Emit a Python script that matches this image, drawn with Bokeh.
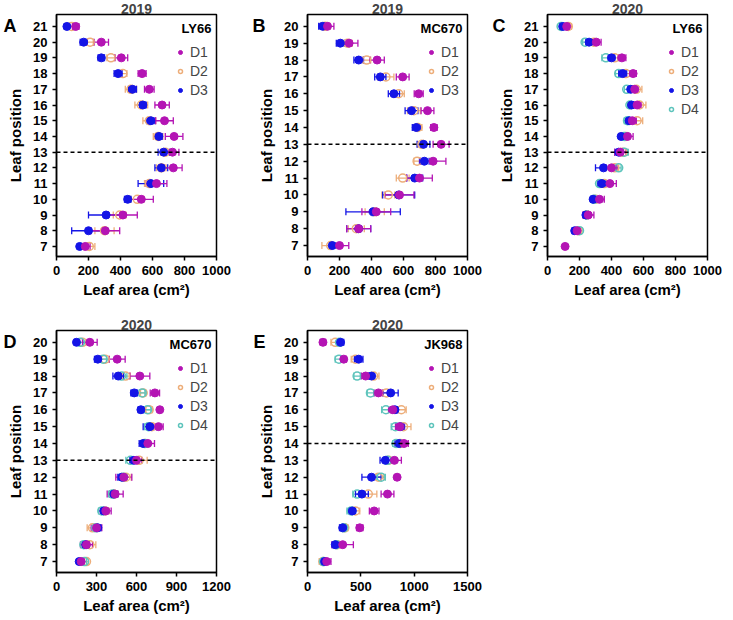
from bokeh.plotting import figure
from bokeh.models import (ColumnDataSource, Whisker, TeeHead, Span, Label,
                          Legend, LegendItem, FixedTicker, Range1d, LinearAxis)
from bokeh.layouts import column, row
from bokeh.embed import file_html
from bokeh.resources import INLINE
import numpy as np

nan = float("nan")
FONT = "Liberation Sans"

# ---------------- data (leaf 7 -> top leaf) ----------------
A_leaf = list(range(7, 22))
A_D1 = [180, 305, 415, 530, 625, 730, 725, 735, 675, 660, 580, 535, 405, 280, 120]
A_D1_err = [30, 90, 90, 75, 65, 55, 40, 55, 55, 45, 30, 25, 40, 45, 20]
A_D2 = [205, 300, 395, 505, 580, 655, 680, 635, 580, 530, 465, 415, 340, 210, 95]
A_D2_err = [35, 60, 40, 40, 30, 30, 30, 30, 40, 40, 35, 25, 25, 20, 15]
A_D3 = [145, 200, 310, 445, 590, 655, 670, 640, 590, 540, 475, 385, 280, 170, 65]
A_D3_err = [10, 105, 110, 20, 80, 40, 35, 20, 25, 20, 25, 25, 20, 22, 15]

B_leaf = list(range(7, 21))
B_D1 = [200, 320, 430, 575, 700, 785, 835, 790, 750, 695, 595, 435, 260, 125]
B_D1_err = [58, 75, 90, 90, 80, 80, 50, 20, 40, 28, 40, 45, 55, 40]
B_D2 = [145, 305, 420, 505, 595, 685, 715, 690, 665, 570, 490, 370, 250, 110]
B_D2_err = [55, 50, 60, 40, 40, 20, 25, 25, 40, 35, 50, 25, 30, 30]
B_D3 = [155, 320, 410, 570, 670, 730, 725, 680, 650, 540, 455, 320, 205, 95]
B_D3_err = [15, 75, 170, 100, 50, 30, 40, 25, 40, 35, 35, 30, 25, 25]

C_leaf = list(range(7, 22))
C_D1 = [110, 185, 255, 325, 390, 400, 455, 500, 530, 560, 545, 535, 465, 305, 120]
C_D1_err = [0, 25, 35, 30, 40, 35, 35, 35, 25, 25, 20, 20, 25, 30, 15]
C_D2 = [nan, 190, 245, 300, 355, 420, 470, 490, 560, 575, 555, 490, 420, 290, 130]
C_D2_err = [nan, 20, 20, 20, 25, 25, 30, 20, 35, 40, 35, 25, 25, 25, 20]
C_D3 = [nan, 170, 240, 285, 340, 350, 445, 460, 510, 525, 520, 470, 400, 260, 95]
C_D3_err = [nan, 15, 15, 15, 25, 50, 25, 15, 20, 15, 15, 25, 20, 20, 10]
C_D4 = [nan, 200, 245, 290, 325, 445, 480, 480, 500, 515, 495, 445, 365, 235, 85]
C_D4_err = [nan, 15, 15, 15, 15, 15, 25, 20, 20, 15, 15, 20, 25, 15, 10]

D_leaf = list(range(7, 21))
D_D1 = [185, 225, 300, 370, 440, 505, 600, 685, 765, 775, 738, 625, 455, 250]
D_D1_err = [20, 45, 40, 40, 60, 60, 40, 50, 35, 0, 35, 75, 60, 55]
D_D2 = [225, 250, 270, 365, 430, 520, 620, 660, 715, 695, 650, 518, 365, 195]
D_D2_err = [15, 45, 40, 30, 30, 40, 60, 30, 35, 25, 20, 35, 30, 25]
D_D3 = [170, 220, 310, 355, 430, 490, 580, 650, 700, 633, 583, 463, 310, 150]
D_D3_err = [15, 25, 25, 25, 30, 30, 30, 30, 50, 20, 25, 40, 25, 15]
D_D4 = [210, 205, 295, 340, 420, 500, 555, 665, 690, 683, 643, 488, 350, 180]
D_D4_err = [15, 20, 20, 25, 30, 30, 35, 30, 30, 25, 20, 40, 25, 20]

E_leaf = list(range(7, 21))
E_D1 = [180, 330, 490, 625, 750, 840, 815, 905, 865, 800, 665, 545, 340, 145]
E_D1_err = [40, 100, 30, 45, 60, 0, 65, 40, 40, 40, 40, 40, 25, 25]
E_D2 = [145, 280, 350, 450, 570, 665, 760, 870, 900, 880, 740, 620, 450, 260]
E_D2_err = [35, 30, 30, 40, 80, 50, 40, 40, 70, 45, 50, 50, 40, 40]
E_D3 = [160, 260, 330, 420, 510, 600, 730, 860, 870, 820, 780, 600, 480, 310]
E_D3_err = [20, 30, 30, 30, 60, 90, 50, 40, 40, 30, 70, 30, 40, 30]
E_D4 = [150, 270, 340, 410, 465, 690, 750, 830, 825, 735, 590, 465, 295, 300]
E_D4_err = [25, 25, 25, 40, 40, 40, 30, 30, 40, 40, 30, 30, 35, 20]

STYLE = {
    "D1": dict(color="#B414B4", filled=True),
    "D2": dict(color="#EDAE7A", filled=False),
    "D3": dict(color="#1414E6", filled=True),
    "D4": dict(color="#5EC4BC", filled=False),
}
DRAW_ORDER = ["D2", "D4", "D3", "D1"]

FW, FH = 160, 242


def make_panel(leaf, series, xmax, xticks, yrange, title, letter, cultivar,
               dash_at, bl, br, bb, letter_standoff):
    p = figure(frame_width=FW, frame_height=FH, output_backend="svg",
               toolbar_location=None, title=title,
               x_range=Range1d(0, xmax), y_range=Range1d(*yrange),
               min_border_left=bl, min_border_right=br,
               min_border_top=0, min_border_bottom=bb)
    p.title.align = "center"
    p.title.text_font = FONT
    p.title.text_font_size = "14px"
    p.title.text_font_style = "bold"
    p.title.standoff = 2
    p.xgrid.visible = False
    p.ygrid.visible = False
    p.outline_line_color = "black"
    p.outline_line_width = 1.5
    p.background_fill_color = "white"
    p.border_fill_color = "white"

    for ax in (p.xaxis[0], p.yaxis[0]):
        ax.axis_line_width = 1.5
        ax.major_tick_line_width = 1.5
        ax.major_tick_out = 4
        ax.major_tick_in = 0
        ax.minor_tick_line_color = None
        ax.major_label_text_font = FONT
        ax.major_label_text_font_size = "13px"
        ax.major_label_text_font_style = "bold"
        ax.major_label_text_color = "black"
        ax.axis_label_text_font = FONT
        ax.axis_label_text_font_size = "15px"
        ax.axis_label_text_font_style = "bold"
        ax.axis_label_text_color = "black"
        ax.major_label_standoff = 5
    p.xaxis.ticker = FixedTicker(ticks=xticks)
    p.yaxis.ticker = FixedTicker(ticks=leaf)
    p.xaxis.axis_label = "Leaf area (cm²)"
    p.yaxis.axis_label = "Leaf position"
    p.xaxis.axis_label_standoff = 3
    p.yaxis.axis_label_standoff = 6

    # panel letter as a one-tick outer axis, level with the top leaf row
    top = max(leaf)
    lax = LinearAxis(ticker=FixedTicker(ticks=[top]),
                     major_label_overrides={top: letter},
                     axis_line_color=None, major_tick_line_color=None,
                     minor_tick_line_color=None, major_tick_out=0, major_tick_in=0,
                     major_label_standoff=letter_standoff,
                     major_label_text_font=FONT,
                     major_label_text_font_size="18px",
                     major_label_text_font_style="bold",
                     major_label_text_color="black")
    p.add_layout(lax, "left")

    p.add_layout(Span(location=dash_at, dimension="width", line_color="black",
                      line_width=1.5, line_dash="4 3"))

    rends = {}
    for name in DRAW_ORDER:
        if name not in series:
            continue
        mean, err = series[name]
        st = STYLE[name]
        m = np.array(mean, dtype=float)
        e = np.array(err, dtype=float)
        src = ColumnDataSource(dict(y=leaf, x=m, lo=m - e, hi=m + e))
        w = Whisker(base="y", lower="lo", upper="hi", dimension="width",
                    source=src, line_color=st["color"], line_width=1.3,
                    lower_head=TeeHead(size=7, line_color=st["color"], line_width=1.3),
                    upper_head=TeeHead(size=7, line_color=st["color"], line_width=1.3))
        p.add_layout(w)
        if st["filled"]:
            r = p.scatter("x", "y", source=src, size=8, marker="circle",
                          fill_color=st["color"], line_color=st["color"])
        else:
            r = p.scatter("x", "y", source=src, size=8, marker="circle",
                          fill_color="white", fill_alpha=0.0,
                          line_color=st["color"], line_width=1.5)
        rends[name] = r

    names = [n for n in ["D1", "D2", "D3", "D4"] if n in rends]
    items = [LegendItem(label=n, renderers=[rends[n]]) for n in names]
    n_items = len(names)
    leg_h = n_items * 16 + (n_items - 1) * 3 + 2 * 3
    lg = Legend(items=items, location=(FW - 41, FH - 24 - leg_h))
    lg.label_text_font = FONT
    lg.label_text_font_size = "14px"
    lg.border_line_color = None
    lg.background_fill_alpha = 0
    lg.glyph_width = 10
    lg.glyph_height = 16
    lg.label_height = 16
    lg.label_standoff = 5
    lg.spacing = 3
    lg.padding = 3
    lg.margin = 0
    p.add_layout(lg)

    p.add_layout(Label(x=FW - 5, y=FH - 14, x_units="screen", y_units="screen",
                       text=cultivar, text_font=FONT, text_font_size="13px",
                       text_font_style="bold", text_align="right",
                       text_baseline="middle", text_color="black"))
    return p


TICKS_1000 = [0, 200, 400, 600, 800, 1000]
pA = make_panel(A_leaf, {"D1": (A_D1, A_D1_err), "D2": (A_D2, A_D2_err),
                         "D3": (A_D3, A_D3_err)},
                1000, TICKS_1000, (6.36, 21.76), "2019", "A", "LY66",
                13, 48, 33, 60, -12)
pB = make_panel(B_leaf, {"D1": (B_D1, B_D1_err), "D2": (B_D2, B_D2_err),
                         "D3": (B_D3, B_D3_err)},
                1000, TICKS_1000, (6.35, 20.7), "2019", "B", "MC670",
                13, 58, 22, 60, -10)
pC = make_panel(C_leaf, {"D1": (C_D1, C_D1_err), "D2": (C_D2, C_D2_err),
                         "D3": (C_D3, C_D3_err), "D4": (C_D4, C_D4_err)},
                1000, TICKS_1000, (6.36, 21.76), "2020", "C", "LY66",
                13, 58, 15, 60, -10)
pD = make_panel(D_leaf, {"D1": (D_D1, D_D1_err), "D2": (D_D2, D_D2_err),
                         "D3": (D_D3, D_D3_err), "D4": (D_D4, D_D4_err)},
                1200, [0, 300, 600, 900, 1200], (6.35, 20.7), "2020", "D", "MC670",
                13, 48, 33, 0, -12)
pE = make_panel(E_leaf, {"D1": (E_D1, E_D1_err), "D2": (E_D2, E_D2_err),
                         "D3": (E_D3, E_D3_err), "D4": (E_D4, E_D4_err)},
                1500, [0, 500, 1000, 1500], (6.35, 20.7), "2020", "E", "JK968",
                14, 58, 22, 0, -10)

layout = column(row(pA, pB, pC), row(pD, pE))
open("out.html", "w").write(file_html(layout, INLINE))
